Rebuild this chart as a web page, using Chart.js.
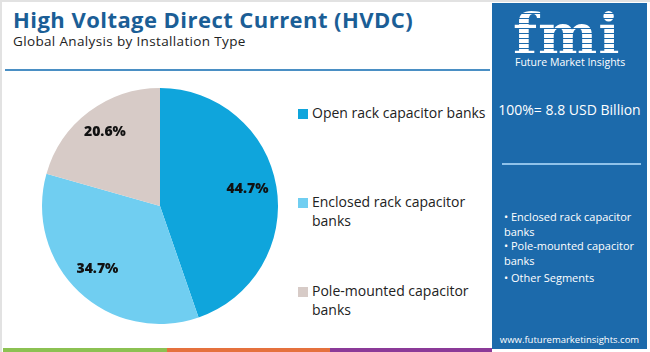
<!DOCTYPE html>
<html>
<head>
<meta charset="utf-8">
<script src="https://cdn.jsdelivr.net/npm/chart.js@4.4.0/dist/chart.umd.min.js"></script>
<style>
  body { margin: 0; background: #fff; }
  #wrap { position: relative; width: 650px; height: 352px; overflow: hidden; font-family: "Open Sans", sans-serif; box-sizing: border-box; border-left: 2px solid #e2e2e2; border-top: 2px solid #e2e2e2; }
  #title { position: absolute; left: 11px; top: 2px; font-size: 22px; font-weight: 700; color: #1b5e96; white-space: nowrap; letter-spacing: 0.45px; }
  #subtitle { position: absolute; left: 11px; top: 30px; font-size: 13.5px; color: #222; white-space: nowrap; letter-spacing: 0.35px; }
  #rule { position: absolute; left: 3px; top: 67px; width: 485px; height: 2px; background: #4a8fc4; }
  #pie { position: absolute; left: 40px; top: 86px; width: 236px; height: 236px; }
  #legend { position: absolute; left: 296px; top: 0; }
  .item { position: absolute; left: 0; width: 200px; font-size: 14px; color: #222; line-height: 18.5px; }
  .sw { position: absolute; left: 0; top: 5px; width: 10px; height: 10px; }
  .txt { position: absolute; left: 14px; top: 0; width: 178px; }
  #panel { position: absolute; left: 490px; top: 1px; width: 155px; height: 346px; background: #1c6aab; color: #fff; }
  #logo { position: absolute; left: 21px; top: 1px; font-family: "DejaVu Serif", serif; font-weight: 700; font-size: 56px; line-height: 60px; letter-spacing: 1px;
          background: repeating-linear-gradient(#fff 0 4px, #1c6aab 4px 5px); -webkit-background-clip: text; background-clip: text; color: transparent; }
  #logoSub { position: absolute; left: 23px; top: 52px; font-size: 10.5px; color: #fff; white-space: nowrap; }
  #total { position: absolute; left: 0; width: 155px; top: 97px; text-align: center; font-size: 14px; white-space: nowrap; }
  #line { position: absolute; left: 10px; top: 160px; width: 139px; height: 2px; background: #8fc2ea; }
  #segs { position: absolute; left: 12px; top: 207px; font-size: 11px; line-height: 14.5px; }
  #site { position: absolute; left: 0; width: 155px; top: 330px; text-align: center; font-size: 9.5px; white-space: nowrap; }
  .bar { position: absolute; top: 346px; height: 5px; }
</style>
</head>
<body>
<div id="wrap">
  <div id="title">High Voltage Direct Current (HVDC)</div>
  <div id="subtitle">Global Analysis by Installation Type</div>
  <div id="rule"></div>
  <div id="pie"><canvas id="chart"></canvas></div>
  <div id="legend"></div>
  <div id="panel">
    <div id="logo">fmi</div>
    <div id="logoSub">Future Market Insights</div>
    <div id="total"></div>
    <div id="line"></div>
    <div id="segs"></div>
    <div id="site">www.futuremarketinsights.com</div>
  </div>
  <div class="bar" style="left:1px;width:164px;background:#8cc152;"></div>
  <div class="bar" style="left:165px;width:163px;background:#e5713d;"></div>
  <div class="bar" style="left:328px;width:162px;background:#8b3a98;"></div>
</div>
<script>
const labels = ["Open rack capacitor banks", "Enclosed rack capacitor banks", "Pole-mounted capacitor banks"];
const values = [44.7, 34.7, 20.6];
const colors = ["#0fa5dc", "#70cef1", "#d7cbc7"];
const legendTops = [102, 191, 280];
const totalText = "100%= 8.8 USD Billion";
const otherSegments = ["Enclosed rack capacitor banks", "Pole-mounted capacitor banks", "Other Segments"];

document.getElementById("total").textContent = totalText;

const legend = document.getElementById("legend");
labels.forEach((l, i) => {
  const d = document.createElement("div");
  d.className = "item";
  d.style.top = legendTops[i] + "px";
  d.innerHTML = '<span class="sw" style="background:' + colors[i] + '"></span><span class="txt">' + l + "</span>";
  legend.appendChild(d);
});

const segs = document.getElementById("segs");
otherSegments.forEach((s, i) => {
  const d = document.createElement("div");
  d.style.width = "134px";
  d.style.marginTop = i == 2 ? "3px" : "0";
  d.textContent = "\u2022 " + s;
  segs.appendChild(d);
});

const pctLabels = {
  id: "pctLabels",
  afterDatasetsDraw(chart) {
    const ctx = chart.ctx;
    const meta = chart.getDatasetMeta(0);
    ctx.save();
    ctx.font = "800 14px 'Open Sans'";
    ctx.fillStyle = "#111";
    ctx.textAlign = "center";
    ctx.textBaseline = "middle";
    meta.data.forEach((arc, i) => {
      const p = arc.getProps(["x", "y", "startAngle", "endAngle", "outerRadius"], true);
      const a = (p.startAngle + p.endAngle) / 2;
      const r = p.outerRadius * 0.76;
      ctx.fillText(values[i].toFixed(1) + "%", p.x + Math.cos(a) * r - 1, p.y + Math.sin(a) * r - 2);
    });
    ctx.restore();
  }
};

new Chart(document.getElementById("chart"), {
  type: "pie",
  data: {
    labels: labels,
    datasets: [{
      data: values,
      backgroundColor: colors,
      borderWidth: 0
    }]
  },
  options: {
    responsive: true,
    maintainAspectRatio: false,
    animation: false,
    layout: { padding: 0 },
    plugins: {
      legend: { display: false },
      tooltip: { enabled: false }
    }
  },
  plugins: [pctLabels]
});
</script>
</body>
</html>
